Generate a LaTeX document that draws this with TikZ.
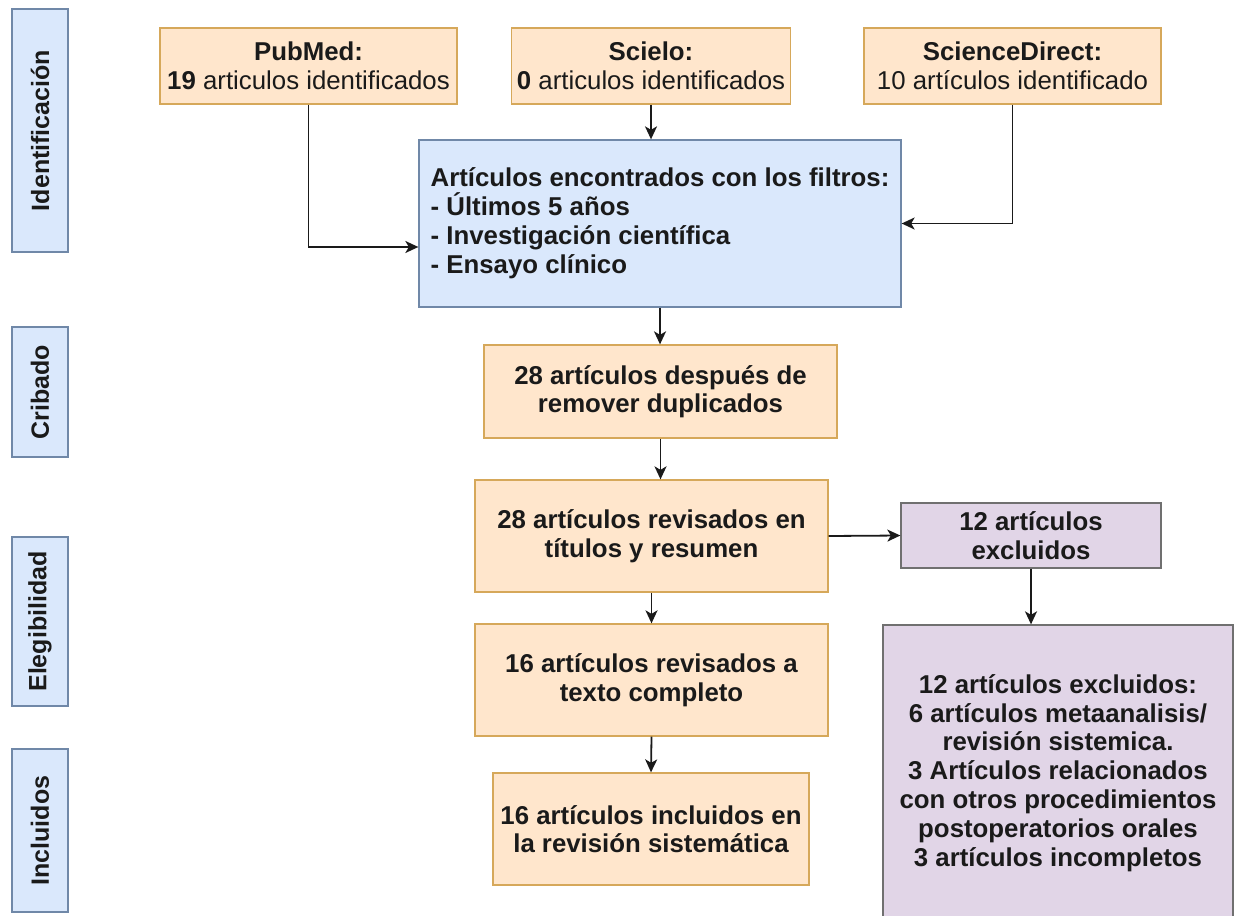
\documentclass[tikz,border=0pt]{standalone}
\usepackage{fontspec}
\setmainfont{Liberation Sans}
\usetikzlibrary{arrows.meta,calc}
\definecolor{oranfill}{HTML}{FFE6CC}
\definecolor{orandraw}{HTML}{D6A85A}
\definecolor{bluefill}{HTML}{DAE8FC}
\definecolor{bluedraw}{HTML}{7088A8}
\definecolor{purpfill}{HTML}{E1D5E7}
\definecolor{purpdraw}{HTML}{707070}
\definecolor{ink}{HTML}{1A1A1A}
\begin{document}
\begin{tikzpicture}[x=1pt,y=-1pt,
  every node/.style={font=\fontsize{25.8}{29}\selectfont, text=ink},
  box/.style={draw, line width=1.3pt, inner sep=0pt, align=center},
  obox/.style={box, fill=oranfill, draw=orandraw},
  bbox/.style={box, fill=bluefill, draw=bluedraw},
  pbox/.style={box, fill=purpfill, draw=purpdraw},
  sidebox/.style={box, fill=bluefill, draw=bluedraw, rotate=90, minimum height=56pt, font=\fontsize{25}{29}\selectfont\bfseries},
  arr/.style={line width=1.8pt, draw=ink, -{Stealth[length=13pt,width=12pt,inset=3.5pt]}}
]
\useasboundingbox (0,0) rectangle (1238,915);
\fill[white] (0,0) rectangle (1238,915);

% side labels
\node[sidebox, minimum width=243pt] (sid) at (40,130.5) {Identificación};
\node[sidebox, minimum width=130pt] (scr) at (40,392) {Cribado};
\node[sidebox, minimum width=169pt] (sel) at (40,621.5) {Elegibilidad};
\node[sidebox, minimum width=163pt] (sinc) at (40,830.5) {Incluidos};

% sources
\node[obox, minimum width=297pt, minimum height=76pt] (pubmed) at (308.5,66) {\textbf{PubMed:}\\\textbf{19} articulos identificados};
\node[obox, minimum width=279pt, minimum height=76pt] (scielo) at (651,66) {\textbf{Scielo:}\\\textbf{0} articulos identificados};
\node[obox, minimum width=297pt, minimum height=76pt] (sd) at (1012.5,66) {\textbf{ScienceDirect:}\\10 artículos identificado};

% filters
\node[bbox, minimum width=482pt, minimum height=167pt, align=left, font=\fontsize{25.8}{29}\selectfont\bfseries] (blue) at (660,223.5) {\raisebox{-4pt}{Artículos encontrados con los filtros:}\\\raisebox{-4pt}{- Últimos 5 años}\\\raisebox{-4pt}{- Investigación científica}\\\raisebox{-4pt}{- Ensayo clínico}};

% main flow
\node[obox, minimum width=353pt, minimum height=93pt, font=\fontsize{25.8}{28.5}\selectfont\bfseries] (dup) at (660.5,391.5) {28 artículos después de\\remover duplicados};
\node[obox, minimum width=353pt, minimum height=112pt, font=\fontsize{25.8}{28.5}\selectfont\bfseries] (rev) at (651.5,536) {28 artículos revisados en\\títulos y resumen};
\node[obox, minimum width=353pt, minimum height=112pt, font=\fontsize{25.8}{28.5}\selectfont\bfseries] (full) at (651.5,680) {16 artículos revisados a\\texto completo};
\node[obox, minimum width=316pt, minimum height=112pt, font=\fontsize{25.8}{28.5}\selectfont\bfseries] (inc) at (651,829) {16 artículos incluidos en\\la revisión sistemática};

% exclusions
\node[pbox, minimum width=260pt, minimum height=65pt, font=\fontsize{25.8}{28.5}\selectfont\bfseries] (exc) at (1031,535.5) {12 artículos\\excluidos};
\node[pbox, minimum width=350pt, minimum height=296pt, font=\fontsize{25.8}{28.8}\selectfont\bfseries] (excl) at (1058,773) {12 artículos excluidos:\\6 artículos metaanalisis/\\revisión sistemica.\\3 Artículos relacionados\\con otros procedimientos\\postoperatorios orales\\3 artículos incompletos};

% connectors
\draw[arr] (pubmed.south) |- ([yshift=-23.5pt]blue.west);
\draw[arr] (scielo.south) -- (scielo.south |- blue.north);
\draw[arr] (sd.south) |- (blue.east);
\draw[arr] (blue.south) -- (blue.south |- dup.north);
\draw[arr] (dup.south) -- (dup.south |- rev.north);
\draw[arr] (rev.east) -- (exc.west);
\draw[arr] (rev.south) -- (full.north);
\draw[arr] (full.south) -- (inc.north);
\draw[arr] (exc.south) -- (exc.south |- excl.north);
\end{tikzpicture}
\end{document}
